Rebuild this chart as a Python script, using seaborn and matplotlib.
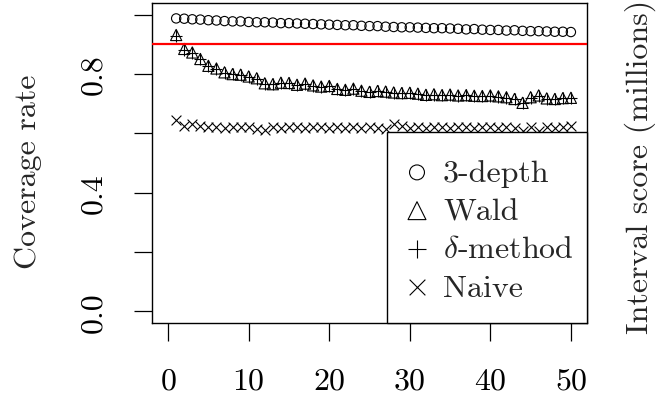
import matplotlib
matplotlib.use("Agg")
import matplotlib.pyplot as plt
from matplotlib.patches import Rectangle
import numpy as np
import pandas as pd
import seaborn as sns

sims = list(range(1, 51))

depth3 = [0.988, 0.987, 0.985, 0.984, 0.982, 0.981, 0.979, 0.978, 0.978, 0.976,
          0.975, 0.975, 0.974, 0.972, 0.972, 0.971, 0.970, 0.969, 0.968, 0.967,
          0.966, 0.965, 0.965, 0.963, 0.962, 0.962, 0.960, 0.959, 0.958, 0.958,
          0.957, 0.956, 0.955, 0.955, 0.954, 0.953, 0.951, 0.952, 0.950, 0.949,
          0.949, 0.947, 0.948, 0.946, 0.945, 0.945, 0.944, 0.943, 0.943, 0.942]

wald = [0.932, 0.885, 0.873, 0.851, 0.828, 0.819, 0.806, 0.800, 0.798, 0.792,
        0.786, 0.769, 0.766, 0.771, 0.770, 0.764, 0.768, 0.762, 0.758, 0.760,
        0.750, 0.747, 0.751, 0.744, 0.740, 0.743, 0.741, 0.738, 0.736, 0.737,
        0.734, 0.730, 0.732, 0.729, 0.731, 0.728, 0.729, 0.727, 0.726, 0.728,
        0.725, 0.722, 0.716, 0.703, 0.722, 0.728, 0.718, 0.716, 0.719, 0.720]

delta = [0.930, 0.883, 0.872, 0.850, 0.826, 0.818, 0.804, 0.799, 0.797, 0.791,
         0.785, 0.768, 0.765, 0.770, 0.769, 0.763, 0.767, 0.761, 0.757, 0.759,
         0.749, 0.746, 0.750, 0.743, 0.739, 0.742, 0.740, 0.737, 0.735, 0.736,
         0.733, 0.729, 0.731, 0.728, 0.730, 0.727, 0.728, 0.726, 0.725, 0.727,
         0.724, 0.721, 0.715, 0.702, 0.721, 0.727, 0.717, 0.715, 0.718, 0.719]

naive = [0.646, 0.624, 0.630, 0.624, 0.621, 0.622, 0.619, 0.622, 0.620, 0.623,
         0.614, 0.612, 0.623, 0.619, 0.620, 0.622, 0.618, 0.621, 0.620, 0.619,
         0.621, 0.618, 0.620, 0.617, 0.621, 0.619, 0.614, 0.630, 0.626, 0.617,
         0.621, 0.619, 0.620, 0.622, 0.618, 0.620, 0.621, 0.619, 0.620, 0.622,
         0.617, 0.620, 0.618, 0.609, 0.621, 0.608, 0.620, 0.619, 0.622, 0.624]

target = 0.9

sns.set_style("white")
plt.rcParams["font.family"] = ["cmr10", "DejaVu Serif"]
plt.rcParams["mathtext.fontset"] = "cm"
plt.rcParams["axes.formatter.use_mathtext"] = True

FS = 23
W, H = 658, 406

fig = plt.figure(figsize=(W / 100, H / 100), dpi=100)
ax = fig.add_axes([152 / W, 1 - 324 / H, (587 - 152) / W, (324 - 4) / H])

series = [
    ("3-depth", depth3, "o", 45),
    ("Wald", wald, "^", 65),
    (r"$\delta$-method", delta, "+", 65),
    ("Naive", naive, "x", 50),
]
for name, vals, mk, size in series:
    df = pd.DataFrame({"sim": sims, "rate": vals})
    if mk in ("o", "^"):
        sns.scatterplot(data=df, x="sim", y="rate", marker=mk, s=size,
                        facecolors="none", edgecolor="black", linewidth=0.8,
                        label=name, ax=ax)
    else:
        sns.scatterplot(data=df, x="sim", y="rate", marker=mk, s=size,
                        color="black", linewidth=0.8, label=name, ax=ax)

ax.axhline(target, color="#ff0000", linewidth=1.6, zorder=5)

ax.set_xlim(-2, 52)
ax.set_ylim(-0.04, 1.04)
ax.set_xticks([0, 10, 20, 30, 40, 50])
ax.set_yticks([0.0, 0.2, 0.4, 0.6, 0.8, 1.0])
ax.set_yticklabels(["0.0", "", "0.4", "", "0.8", ""])
ax.tick_params(axis="both", direction="out", length=13, width=0.9,
               bottom=True, left=True,
               color="black", labelsize=FS, labelcolor="black")
ax.tick_params(axis="x", pad=19)
ax.tick_params(axis="y", pad=19)
for t in ax.get_yticklabels():
    t.set_rotation(90)
    t.set_va("center")
ax.set_xlabel("")
ax.set_ylabel("")
for sp in ax.spines.values():
    sp.set_color("black")
    sp.set_linewidth(1.0)

# legend box: bottom-right corner of the plot region
bx0, by0 = (387 - 152) / (587 - 152), 0.0
bw, bh = 1 - bx0, (324 - 133) / (324 - 4)
ax.add_patch(Rectangle((bx0, by0), bw, bh, transform=ax.transAxes,
                       facecolor="white", edgecolor="black", linewidth=1.0,
                       zorder=6, clip_on=False))

fs_px = FS * 100 / 72
hl = 0.7
leg = ax.legend(loc="center left", frameon=False, fontsize=FS,
                bbox_to_anchor=((417 - hl * fs_px / 2) / W, 1 - 231 / H),
                bbox_transform=fig.transFigure, borderpad=0, borderaxespad=0,
                markerscale=1.6, handlelength=hl, handletextpad=0.46,
                labelspacing=0.31)
leg.set_zorder(7)

fig.text(28 / W, 1 - 172 / H, "Coverage rate", rotation=90,
         ha="center", va="center", fontsize=FS)
fig.text(640 / W, 1 - 167 / H, "Interval score (millions)", rotation=90,
         ha="center", va="center", fontsize=FS)

fig.savefig("out.png", dpi=100)
